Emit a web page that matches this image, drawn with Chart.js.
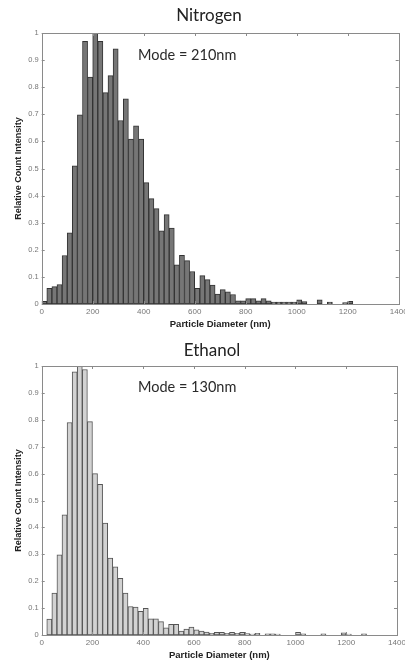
<!DOCTYPE html>
<html>
<head>
<meta charset="utf-8">
<script src="https://cdn.jsdelivr.net/npm/chart.js@4.4.1/dist/chart.umd.min.js"></script>
<style>
  html, body { margin: 0; padding: 0; background: #fff; }
  #wrap { position: relative; width: 405px; height: 662px; }
  .panel { position: absolute; left: 0; width: 405px; height: 331px; }
  .mode {
    position: absolute; left: 138px;
    font: 14.5px Lato, 'Open Sans', sans-serif; color: #2a2a2a;
    white-space: nowrap;
  }
  .ttl {
    position: absolute; width: 200px; text-align: center;
    font: 17px Lato, 'Open Sans', sans-serif; color: #222;
  }
</style>
</head>
<body>
<div id="wrap">
  <div class="panel" style="top:0"><canvas id="nitrogenChart" width="405" height="331"></canvas></div>
  <div class="panel" style="top:331px"><canvas id="ethanolChart" width="405" height="331"></canvas></div>
  <div class="ttl" style="left:109px; top:4px">Nitrogen</div>
  <div class="ttl" style="left:112px; top:339px">Ethanol</div>
  <div class="mode" style="top:46px">Mode = 210nm</div>
  <div class="mode" style="top:378px">Mode = 130nm</div>
</div>
<script>
// ─── Data (20 nm bins, relative count intensity) ───────────────
const binCentres = [
  10, 30, 50, 70, 90, 110, 130, 150, 170, 190,
  210, 230, 250, 270, 290, 310, 330, 350, 370, 390,
  410, 430, 450, 470, 490, 510, 530, 550, 570, 590,
  610, 630, 650, 670, 690, 710, 730, 750, 770, 790,
  810, 830, 850, 870, 890, 910, 930, 950, 970, 990,
  1010, 1030, 1050, 1070, 1090, 1110, 1130, 1150, 1170, 1190,
  1210, 1230, 1250, 1270, 1290, 1310, 1330, 1350, 1370, 1390,
];

const nitrogenCounts = [
  0.010, 0.058, 0.064, 0.072, 0.179, 0.263, 0.510, 0.698, 0.969, 0.837,
  1.000, 0.969, 0.780, 0.843, 0.942, 0.677, 0.757, 0.609, 0.657, 0.609,
  0.448, 0.389, 0.352, 0.270, 0.330, 0.280, 0.145, 0.180, 0.160, 0.120,
  0.058, 0.105, 0.090, 0.070, 0.037, 0.053, 0.045, 0.035, 0.012, 0.012,
  0.020, 0.020, 0.012, 0.020, 0.012, 0.007, 0.007, 0.007, 0.007, 0.007,
  0.015, 0.009, 0, 0, 0.015, 0, 0.007, 0, 0, 0.005,
  0.010, 0, 0, 0, 0, 0, 0, 0, 0, 0,
];

const ethanolCounts = [
  0, 0.059, 0.156, 0.298, 0.447, 0.790, 0.978, 1.000, 0.987, 0.793,
  0.600, 0.560, 0.416, 0.286, 0.253, 0.211, 0.156, 0.106, 0.104, 0.088,
  0.099, 0.060, 0.060, 0.050, 0.027, 0.040, 0.040, 0.015, 0.022, 0.029,
  0.019, 0.015, 0.011, 0.006, 0.010, 0.010, 0.006, 0.010, 0.006, 0.010,
  0.005, 0.003, 0.006, 0, 0.004, 0.004, 0.003, 0, 0, 0,
  0.010, 0.004, 0, 0, 0, 0.004, 0, 0, 0, 0.008,
  0.003, 0, 0, 0.004, 0, 0, 0, 0, 0, 0,
];

const xTicks = [0, 200, 400, 600, 800, 1000, 1200, 1400];
const yTicks = [0, 0.1, 0.2, 0.3, 0.4, 0.5, 0.6, 0.7, 0.8, 0.9, 1];

// ─── MATLAB-style box with inward ticks ───────────────────────
const boxFrame = {
  id: 'boxFrame',
  afterDraw(chart) {
    const { ctx, chartArea: a, scales: { x, y } } = chart;
    const len = 3;
    ctx.save();
    ctx.strokeStyle = '#8a8a8a';
    ctx.lineWidth = 1;
    ctx.beginPath();
    xTicks.forEach(v => {
      const px = Math.round(x.getPixelForValue(v)) + 0.5;
      ctx.moveTo(px, a.bottom); ctx.lineTo(px, a.bottom - len);
      ctx.moveTo(px, a.top);    ctx.lineTo(px, a.top + len);
    });
    yTicks.forEach(v => {
      const py = Math.round(y.getPixelForValue(v)) + 0.5;
      ctx.moveTo(a.left, py);  ctx.lineTo(a.left + len, py);
      ctx.moveTo(a.right, py); ctx.lineTo(a.right - len, py);
    });
    ctx.stroke();
    ctx.strokeRect(Math.round(a.left) + 0.5, Math.round(a.top) + 0.5,
                   Math.round(a.right - a.left), Math.round(a.bottom - a.top));
    ctx.restore();
  },
};

const tickFont  = { family: "'Liberation Sans', Arial, sans-serif", size: 8 };
const titleFont = { family: "'Liberation Sans', Arial, sans-serif", size: 9.5, weight: 'bold' };

function makeHistogram(id, counts, fill, edge, padTop, padRight) {
  new Chart(document.getElementById(id), {
    type: 'bar',
    data: {
      datasets: [{
        data: binCentres.map((c, i) => ({ x: c, y: counts[i] })),
        backgroundColor: fill,
        borderColor: edge,
        borderWidth: 1,
        borderSkipped: false,
        barPercentage: 1,
        categoryPercentage: 1,
      }],
    },
    options: {
      responsive: false,
      animation: false,
      layout: { padding: { top: padTop, right: padRight, left: 0, bottom: 0 } },
      plugins: { legend: { display: false }, tooltip: { enabled: false } },
      scales: {
        x: {
          type: 'linear', min: 0, max: 1400, offset: false,
          afterBuildTicks: s => { s.ticks = xTicks.map(v => ({ value: v })); },
          afterFit: s => { s.height = 27; s.paddingLeft = 0; s.paddingRight = 0; },
          grid: { display: false, drawTicks: false },
          border: { display: false },
          ticks: { color: '#777', font: tickFont, padding: 3, maxRotation: 0, autoSkip: false,
                   callback: v => String(v) },
          title: { display: true, text: 'Particle Diameter (nm)', color: '#222', font: titleFont,
                   padding: { top: 0, bottom: 1 } },
        },
        y: {
          min: 0, max: 1,
          afterBuildTicks: s => { s.ticks = yTicks.map(v => ({ value: v })); },
          afterFit: s => { s.width = 41.7; s.paddingTop = 0; s.paddingBottom = 0; },
          grid: { display: false, drawTicks: false },
          border: { display: false },
          ticks: { color: '#777', font: { ...tickFont, size: 7.5 }, padding: 3,
                   callback: v => String(+v.toFixed(1)) },
          title: { display: true, text: 'Relative Count Intensity', color: '#222',
                   font: { ...titleFont, size: 9 }, padding: { top: 13, bottom: 0 } },
        },
      },
    },
    plugins: [boxFrame],
  });
}

makeHistogram('nitrogenChart', nitrogenCounts, '#767676', '#333333', 33, 6.3);
makeHistogram('ethanolChart',  ethanolCounts,  '#d2d2d2', '#555555', 35, 8);
</script>
</body>
</html>
